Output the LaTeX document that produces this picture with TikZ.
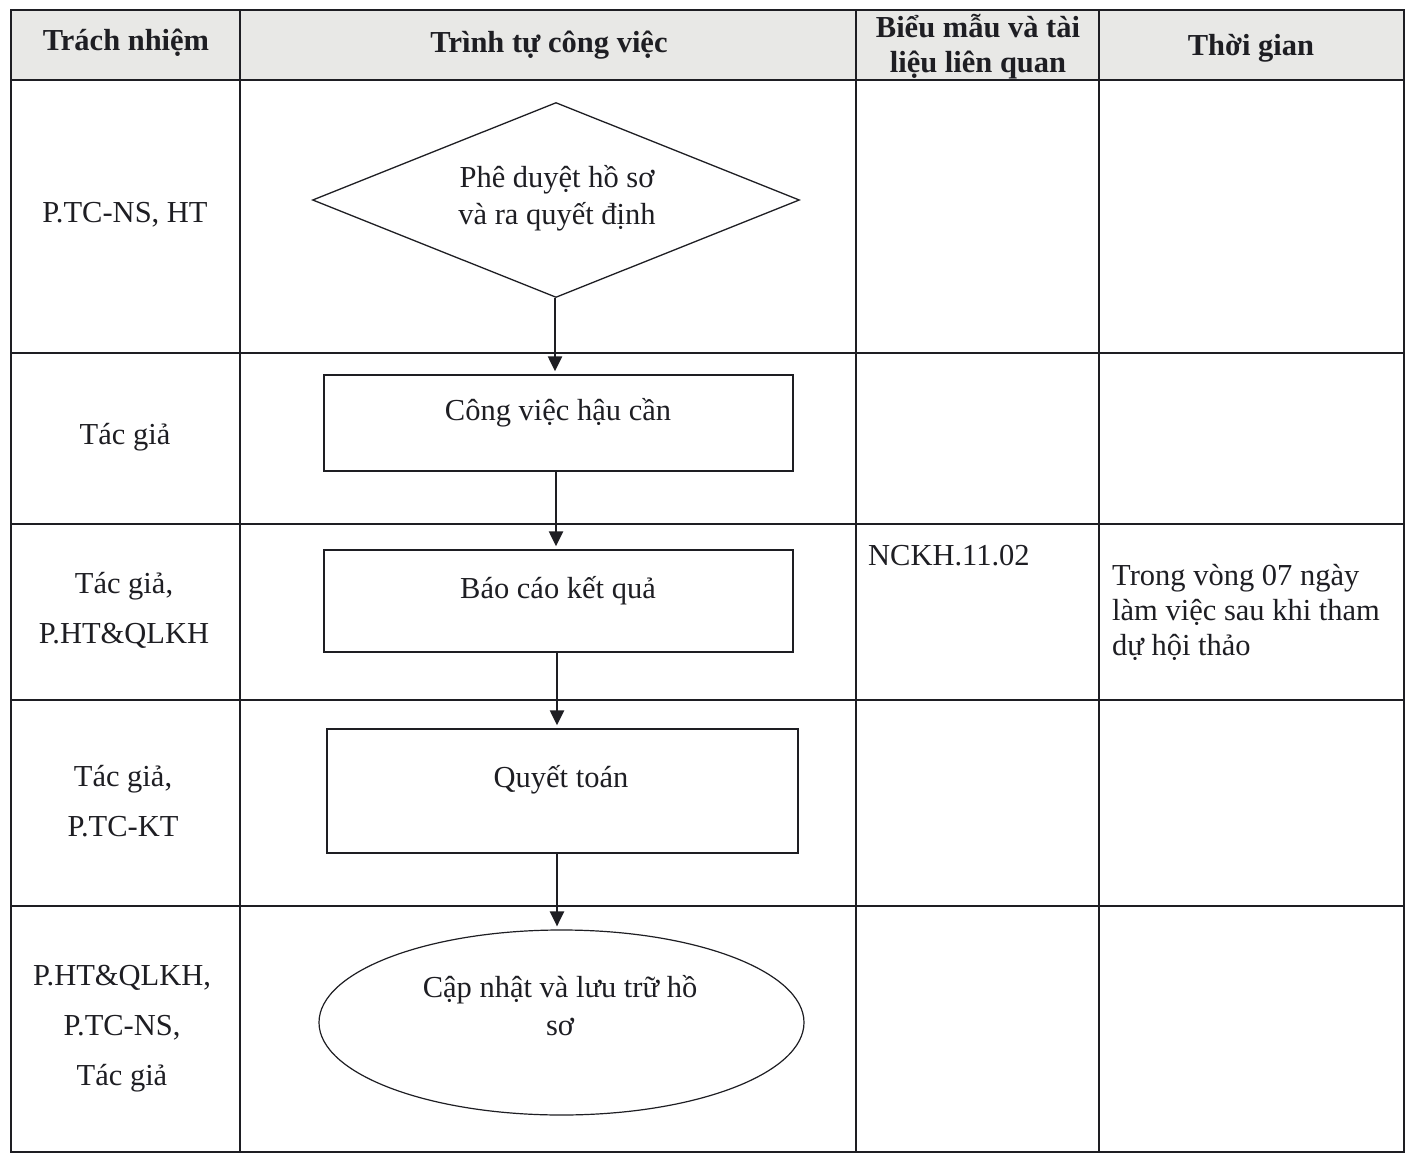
\documentclass[tikz,border=0pt]{standalone}
\usepackage{fontspec}
\setmainfont{Liberation Serif}
\usetikzlibrary{shapes.geometric,arrows.meta}
\definecolor{ink}{RGB}{30,30,35}
\definecolor{hdr}{RGB}{232,232,230}
\tikzset{
  grid/.style={draw=ink,line width=2pt},
  cell/.style={font=\fontsize{30.5}{35}\selectfont,text=ink,inner sep=0pt,align=center},
  hcell/.style={cell,font=\fontsize{30.5}{35}\selectfont\bfseries},
  lcell/.style={cell,font=\fontsize{30.5}{50}\selectfont},
  stepbox/.style={draw=ink,line width=1.4pt,rectangle,inner sep=0pt},
  decide/.style={draw=ink,line width=1.3pt,diamond,inner sep=0pt,aspect=2.5},
  endbox/.style={draw=ink,line width=1.2pt,ellipse,inner sep=0pt},
  arr/.style={draw=ink,line width=2.4pt,-{Triangle[length=15pt,width=14pt]},shorten >=3pt}
}
\begin{document}
\begin{tikzpicture}[x=1pt,y=-1pt]
\useasboundingbox (0,0) rectangle (1408,1155);
\fill[white] (0,0) rectangle (1408,1155);
% header shading
\fill[hdr] (11,10) rectangle (1404,80);
% grid
\draw[grid] (11,10) rectangle (1404,1152);
\foreach \yy in {80,353,524,700,906} \draw[grid] (11,\yy) -- (1404,\yy);
\foreach \xx in {240,856,1099} \draw[grid] (\xx,10) -- (\xx,1152);
% headers
\node[hcell] (h1) at (126,43) {Trách nhiệm};
\node[hcell] (h2) at (549,45) {Trình tự công việc};
\node[hcell] (h3) at (978,47) {Biểu mẫu và tài\\liệu liên quan};
\node[hcell] (h4) at (1251,48) {Thời gian};
% left column
\node[lcell] (r1) at (125,215) {P.TC-NS, HT};
\node[lcell] (r2) at (125,437) {Tác giả};
\node[lcell] (r3) at (124,610) {Tác giả,\\P.HT\&QLKH};
\node[lcell] (r4) at (123,801) {Tác giả,\\P.TC-KT};
\node[lcell] (r5) at (122,1029) {P.HT\&QLKH,\\P.TC-NS,\\Tác giả};
% flow shapes
\node[decide,minimum width=487pt,minimum height=195pt] (d1) at (556,200) {};
\node[cell,font=\fontsize{30.5}{37}\selectfont] (t1) at (557,198) {Phê duyệt hồ sơ\\và ra quyết định};
\node[stepbox,minimum width=469pt,minimum height=96pt] (b2) at (558.5,423) {};
\node[cell] (t2) at (558,413) {Công việc hậu cần};
\node[stepbox,minimum width=469pt,minimum height=102pt] (b3) at (558.5,601) {};
\node[cell] (t3) at (558,591) {Báo cáo kết quả};
\node[stepbox,minimum width=471pt,minimum height=124pt] (b4) at (562.5,791) {};
\node[cell] (t4) at (561,780) {Quyết toán};
\node[endbox,minimum width=485pt,minimum height=185pt] (e5) at (561.5,1022.5) {};
\node[cell,font=\fontsize{30.5}{38}\selectfont] (t5) at (560,1006) {Cập nhật và lưu trữ hồ\\sơ};
% arrows
\draw[arr] ([xshift=-1pt]d1.south) -- ([xshift=-1pt]d1.south |- b2.north);
\draw[arr] ([xshift=-2.5pt]b2.south) -- ([xshift=-2.5pt]b2.south |- b3.north);
\draw[arr] ([xshift=-1.5pt]b3.south) -- ([xshift=-1.5pt]b3.south |- b4.north);
\draw[arr] ([xshift=-5.5pt]b4.south) -- ([xshift=-5.5pt]b4.south |- e5.north);
% other columns
\node[cell,anchor=north west] (c3) at (868,545) {NCKH.11.02};
\node[cell,anchor=north west,align=left] (c4) at (1112,564) {Trong vòng 07 ngày\\làm việc sau khi tham\\dự hội thảo};
\end{tikzpicture}
\end{document}
